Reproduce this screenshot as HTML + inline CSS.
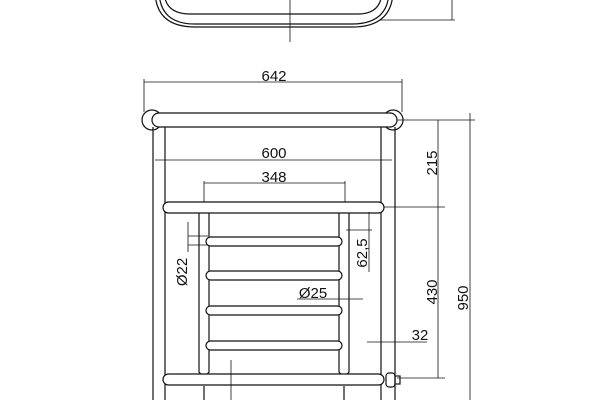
<!DOCTYPE html>
<html><head><style>html,body{margin:0;padding:0;background:#fff}svg{display:block}</style></head>
<body>
<svg width="600" height="400" viewBox="0 0 600 400" xmlns="http://www.w3.org/2000/svg" font-family="Liberation Sans, sans-serif" font-size="15" fill="none" stroke="#111" stroke-width="1.2">
<path d="M155,-10 Q155,27 195,27 L352,27 Q393,27 393,-10"/>
<path d="M159,-10 Q159,24 195,24 L352,24 Q389,24 389,-10"/>
<path d="M164,-10 Q164,14 190,14 L358,14 Q382,14 382,-10"/>
<line x1="290" y1="0" x2="290" y2="42" stroke-width="0.8"/>
<line x1="452" y1="0" x2="452" y2="20" stroke-width="0.8"/>
<line x1="380" y1="20" x2="455" y2="20" stroke-width="0.8"/>
<line x1="144" y1="82" x2="402" y2="82" stroke-width="0.8"/>
<line x1="144" y1="79" x2="144" y2="112" stroke-width="0.8"/>
<line x1="402" y1="79" x2="402" y2="112" stroke-width="0.8"/>
<text x="274" y="81" fill="#111" stroke="none" text-anchor="middle">642</text>
<circle cx="152" cy="120" r="10"/><circle cx="393" cy="120" r="10"/>
<line x1="153" y1="127" x2="153" y2="400"/><line x1="165" y1="127" x2="165" y2="400"/>
<line x1="381" y1="127" x2="381" y2="400"/><line x1="395" y1="127" x2="395" y2="400"/>
<rect x="152" y="113" width="245" height="14" rx="7" fill="#fff"/>
<line x1="155" y1="160" x2="392" y2="160" stroke-width="0.8"/>
<text x="274" y="158" fill="#111" stroke="none" text-anchor="middle">600</text>
<line x1="204" y1="183" x2="345" y2="183" stroke-width="0.8"/>
<line x1="204" y1="181" x2="204" y2="205" stroke-width="0.8"/>
<line x1="345" y1="181" x2="345" y2="205" stroke-width="0.8"/>
<text x="274" y="182" fill="#111" stroke="none" text-anchor="middle">348</text>
<path d="M199,212 L204,205 L209,212 L209,372 L204,378 L199,372 Z" fill="#fff"/>
<path d="M339,212 L344,205 L349,212 L349,372 L344,378 L339,372 Z" fill="#fff"/>
<line x1="204" y1="386" x2="204" y2="400"/><line x1="344" y1="386" x2="344" y2="400"/>
<rect x="163" y="202" width="221" height="11" rx="5.5" fill="#fff"/>
<rect x="163" y="374" width="221" height="11" rx="5.5" fill="#fff"/>
<rect x="206" y="237" width="136" height="9" rx="4.5" fill="#fff"/>
<rect x="206" y="271" width="136" height="9" rx="4.5" fill="#fff"/>
<rect x="206" y="306" width="136" height="9" rx="4.5" fill="#fff"/>
<rect x="206" y="341" width="136" height="9" rx="4.5" fill="#fff"/>
<rect x="386" y="373" width="9" height="14" rx="3" fill="#fff"/>
<rect x="395" y="376" width="5" height="8"/>
<line x1="397" y1="120" x2="475" y2="120" stroke-width="0.8"/>
<line x1="384" y1="207" x2="445" y2="207" stroke-width="0.8"/>
<line x1="397" y1="378" x2="445" y2="378" stroke-width="0.8"/>
<line x1="438" y1="120" x2="438" y2="378" stroke-width="0.8"/>
<line x1="470" y1="113" x2="470" y2="400" stroke-width="0.8"/>
<text transform="translate(437,163) rotate(-90)" fill="#111" stroke="none" text-anchor="middle">215</text>
<text transform="translate(437,292) rotate(-90)" fill="#111" stroke="none" text-anchor="middle">430</text>
<text transform="translate(468,298) rotate(-90)" fill="#111" stroke="none" text-anchor="middle">950</text>
<line x1="369" y1="212" x2="369" y2="272" stroke-width="0.8"/>
<line x1="346" y1="230" x2="372" y2="230" stroke-width="0.8"/>
<text transform="translate(367,253) rotate(-90)" fill="#111" stroke="none" text-anchor="middle">62,5</text>
<line x1="188" y1="222" x2="188" y2="252" stroke-width="0.8"/>
<line x1="188" y1="236" x2="208" y2="236" stroke-width="0.8"/>
<line x1="188" y1="245" x2="208" y2="245" stroke-width="0.8"/>
<text transform="translate(187,272) rotate(-90)" fill="#111" stroke="none" text-anchor="middle">Ø22</text>
<text x="313" y="298" fill="#111" stroke="none" text-anchor="middle">Ø25</text>
<line x1="297" y1="299" x2="363" y2="299" stroke-width="0.8"/>
<text x="420" y="340" fill="#111" stroke="none" text-anchor="middle">32</text>
<line x1="367" y1="342" x2="427" y2="342" stroke-width="0.8"/>
<line x1="231" y1="360" x2="231" y2="400" stroke-width="0.8"/>
</svg>
</body></html>
